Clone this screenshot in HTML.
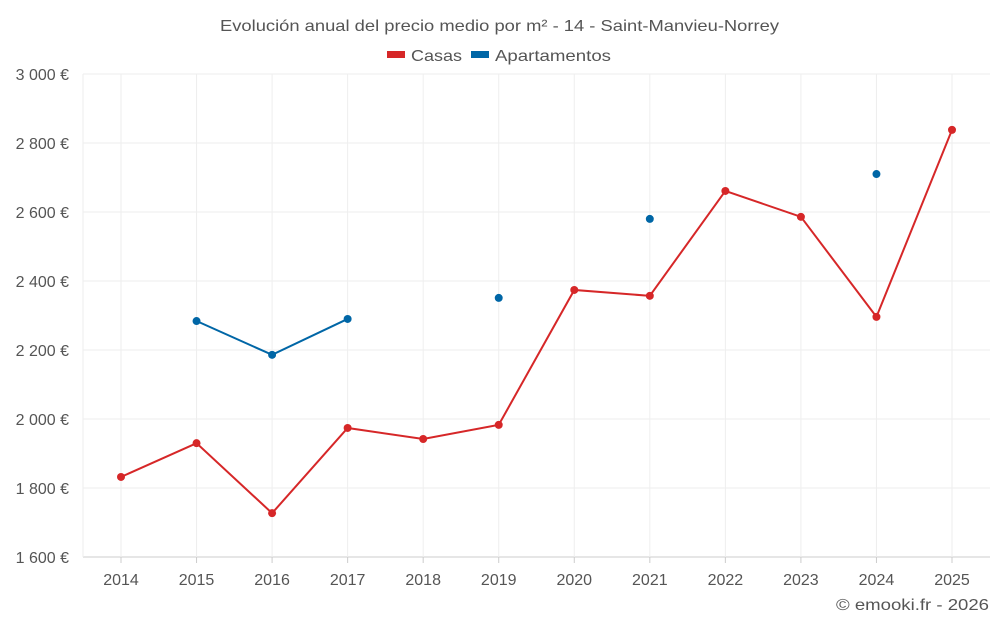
<!DOCTYPE html>
<html><head><meta charset="utf-8"><style>
body{margin:0;background:#fff;font-family:"Liberation Sans",sans-serif;}
svg text{font-family:"Liberation Sans",sans-serif;fill:#555;}
</style></head><body>
<svg id="chart" width="1000" height="625" xmlns="http://www.w3.org/2000/svg">
<text x="220" y="31" font-size="16" textLength="559" lengthAdjust="spacingAndGlyphs">Evolución anual del precio medio por m² - 14 - Saint-Manvieu-Norrey</text>
<g>
<g><rect x="387" y="51" width="18" height="7" fill="#d62728"/><text x="411" y="61" font-size="16" textLength="51" lengthAdjust="spacingAndGlyphs">Casas</text></g>
<g><rect x="471" y="51" width="18" height="7" fill="#0066a6"/><text x="495" y="61" font-size="16" textLength="116" lengthAdjust="spacingAndGlyphs">Apartamentos</text></g>
</g>
<g id="grid"></g><g id="axes"></g><g id="series"></g>
<text x="836" y="610" font-size="16" textLength="153" lengthAdjust="spacingAndGlyphs">© emooki.fr - 2026</text>
</svg>
<script>
const years=[2014,2015,2016,2017,2018,2019,2020,2021,2022,2023,2024,2025];
const casas=[1832,1930,1727,1974,1942,1983,2374,2357,2661,2586,2296,2838];
const apartamentos=[null,2284,2186,2290,null,2351,null,2580,null,null,2710,null];
const yTicks=[1600,1800,2000,2200,2400,2600,2800,3000];
const NS="http://www.w3.org/2000/svg";
const L=83,R=990,T=74,B=557,ymin=1600,ymax=3000;
const x=i=>121+i*(952-121)/(years.length-1);
const y=v=>B-(v-ymin)/(ymax-ymin)*(B-T);
function mk(tag,attrs,parent,txt){const e=document.createElementNS(NS,tag);for(const k in attrs)e.setAttribute(k,attrs[k]);if(txt!==undefined)e.textContent=txt;document.getElementById(parent).appendChild(e);return e;}
yTicks.forEach(v=>{
 const g=mk('line',{x1:L,x2:R,y1:y(v),y2:y(v),stroke:v===ymin?'#ccc':'#eee'},'grid');
 
 
 const t=mk('text',{x:69,y:y(v)+6,'text-anchor':'end','font-size':16},'axes',v.toLocaleString('fr-FR').replace(/\s/g,' ')+' €');
 
 
});
const lb=mk('line',{x1:L,x2:L,y1:T,y2:B,stroke:'#eee'},'grid');


years.forEach((yr,i)=>{
 const g=mk('line',{x1:x(i),x2:x(i),y1:T,y2:B,stroke:'#eee'},'grid');
 
 
 const tk=mk('line',{x1:x(i),x2:x(i),y1:B,y2:B+6,stroke:'#ccc'},'axes');
 
 
 const t=mk('text',{x:x(i),y:585,'text-anchor':'middle','font-size':16},'axes',yr);
 
 
});
function series(vals,color,name){
 let seg=[];const segs=[];
 vals.forEach((v,i)=>{if(v===null){if(seg.length)segs.push(seg);seg=[];}else seg.push([x(i),y(v)]);});
 if(seg.length)segs.push(seg);
 segs.forEach(s=>{if(s.length>1){const p=mk('polyline',{points:s.map(q=>q.join(',')).join(' '),fill:'none',stroke:color,'stroke-width':2},'series');
  
  }});
 vals.forEach((v,i)=>{if(v===null)return;const c=mk('circle',{cx:x(i),cy:y(v),r:4,fill:color},'series');
  
  });
}
series(casas,'#d62728','casas');
series(apartamentos,'#0066a6','apartamentos');
</script>
</body></html>
